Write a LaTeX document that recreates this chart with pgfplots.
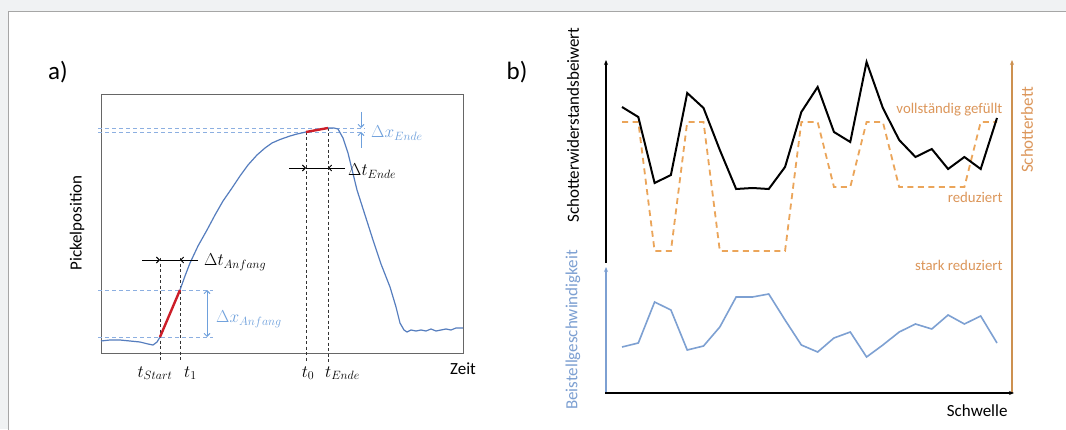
\documentclass[border=0pt]{standalone}
\usepackage{pgfplots}
\pgfplotsset{compat=1.18}
\usepackage{fontspec}
\setmainfont{Carlito}
\usetikzlibrary{arrows.meta}

\definecolor{pagebg}{RGB}{240,242,243}
\definecolor{curveblue}{RGB}{85,125,190}
\definecolor{dashblue}{RGB}{140,175,225}
\definecolor{labblue}{RGB}{110,160,220}
\definecolor{markred}{RGB}{205,30,40}
\definecolor{bedorange}{RGB}{235,165,90}
\definecolor{laborange}{RGB}{220,150,90}
\definecolor{axorange}{RGB}{205,145,80}
\definecolor{speedblue}{RGB}{125,160,210}

\newcommand\lab{\fontsize{17}{20}\selectfont}
\newcommand\mlab{\fontsize{17.5}{20}\selectfont}
\newcommand\olab{\fontsize{14.8}{17}\selectfont}

\begin{document}
\begin{tikzpicture}
\useasboundingbox (0pt,0pt) rectangle (1066pt,429pt);
\fill[pagebg] (0pt,0pt) rectangle (1066pt,429pt);
\filldraw[fill=white, draw=black!35, line width=0.8pt] (8pt,-5pt) rectangle (1075pt,418pt);

% panel labels
\node[font=\fontsize{25}{28}\selectfont] at (58pt,357pt) {a)};
\node[font=\fontsize{25}{28}\selectfont] at (517pt,357pt) {b)};

% ---------------- a) ----------------
\begin{axis}[
    at={(101pt,76pt)}, anchor=south west,
    scale only axis, width=362pt, height=259pt,
    xmin=101, xmax=463, ymin=76, ymax=335,
    xtick=\empty, ytick=\empty,
    axis line style={black!60, line width=0.9pt},
    clip=false
]
% guide lines
\draw[dashblue, line width=0.9pt, dash pattern=on 4pt off 3pt] (axis cs:98,301) -- (axis cs:365,301);
\draw[dashblue, line width=0.9pt, dash pattern=on 4pt off 3pt] (axis cs:98,297) -- (axis cs:365,297);
\draw[dashblue, line width=0.9pt, dash pattern=on 4pt off 3pt] (axis cs:98,139) -- (axis cs:213,139);
\draw[dashblue, line width=0.9pt, dash pattern=on 4pt off 3pt] (axis cs:98,92) -- (axis cs:213,92);
\draw[black!80, line width=0.9pt, dash pattern=on 3pt off 2.5pt] (axis cs:160,171) -- (axis cs:160,67);
\draw[black!80, line width=0.9pt, dash pattern=on 3pt off 2.5pt] (axis cs:180,171) -- (axis cs:180,67);
\draw[black!80, line width=0.9pt, dash pattern=on 3pt off 2.5pt] (axis cs:306,297) -- (axis cs:306,67);
\draw[black!80, line width=0.9pt, dash pattern=on 3pt off 2.5pt] (axis cs:328,301) -- (axis cs:328,67);

% curve
\addplot[curveblue, line width=1.2pt] coordinates {
(101,88) (110,89) (120,89) (130,88) (140,87) (148,85) (153,84) (157,87) (160,92)
(180,139) (185,153) (190,166) (198,183) (207,199) (215,214) (223,228) (232,241)
(240,253) (248,264) (257,274) (265,281) (272,286) (280,289.5) (290,293) (297,295)
(306,297) (328,301)
(334,301) (338,300) (343,291) (348,276) (357,239) (365,214) (373,189) (381,165)
(390,142) (396,122) (400,106) (404,99) (407,97) (411,99) (416,98) (421,99)
(426,98) (431,100) (436,98) (441,99) (446,100) (451,99) (456,101) (463,101)
};
\addplot[markred, line width=2.4pt] coordinates {(160,92) (180,139)};
\addplot[markred, line width=2.4pt] coordinates {(306,297) (328,301)};

% delta t arrows
\draw[black, line width=0.9pt] (axis cs:160,169) -- (axis cs:180,169);
\draw[black, line width=0.9pt, -{Straight Barb[length=3pt,width=6pt]}] (axis cs:142,169) -- (axis cs:160,169);
\draw[black, line width=0.9pt, -{Straight Barb[length=3pt,width=6pt]}] (axis cs:198,169) -- (axis cs:180,169);
\node[anchor=west, font=\mlab, inner sep=1pt] at (axis cs:203,167) {$\Delta t_{Anfang}$};

\draw[black, line width=0.9pt] (axis cs:306,261) -- (axis cs:328,261);
\draw[black, line width=0.9pt, -{Straight Barb[length=3pt,width=6pt]}] (axis cs:289,261) -- (axis cs:306,261);
\draw[black, line width=0.9pt, -{Straight Barb[length=3pt,width=6pt]}] (axis cs:345,261) -- (axis cs:328,261);
\node[anchor=west, font=\mlab, inner sep=1pt] at (axis cs:347,258) {$\Delta t_{Ende}$};

% delta x arrows
\draw[labblue, line width=0.9pt, {Straight Barb[length=3pt,width=6pt]}-{Straight Barb[length=3pt,width=6pt]}] (axis cs:207,92) -- (axis cs:207,139);
\node[anchor=west, font=\mlab, text=labblue, inner sep=1pt] at (axis cs:215,110) {$\Delta x_{Anfang}$};
\draw[labblue, line width=0.9pt, -{Straight Barb[length=3pt,width=6pt]}] (axis cs:361,317) -- (axis cs:361,301);
\draw[labblue, line width=0.9pt, -{Straight Barb[length=3pt,width=6pt]}] (axis cs:361,281) -- (axis cs:361,297);
\node[anchor=west, font=\mlab, text=labblue, inner sep=1pt] at (axis cs:370,296) {$\Delta x_{Ende}$};

% time labels
\node[font=\mlab] at (axis cs:155,56) {$t_{Start}$};
\node[font=\mlab, anchor=west, inner sep=1pt] at (axis cs:183,56) {$t_{1}$};
\node[font=\mlab] at (axis cs:308,56) {$t_{0}$};
\node[font=\mlab, anchor=west, inner sep=1pt] at (axis cs:324,56) {$t_{Ende}$};
\node[font=\lab] at (axis cs:463,60) {Zeit};
\end{axis}
\node[font=\lab, rotate=90] at (77pt,206pt) {Pickelposition};

% ---------------- b) ----------------
\begin{axis}[
    at={(606pt,36pt)}, anchor=south west,
    scale only axis, width=406pt, height=333pt,
    xmin=-0.9813, xmax=23.92, ymin=36, ymax=369,
    axis lines=none,
    clip=false
]
% Schotterbett (dashed)
\addplot[bedorange, line width=1.8pt, dash pattern=on 6pt off 4.5pt] coordinates {
(0,307) (1,307) (2,178) (3,178) (4,307) (5,307) (6,178) (7,178) (8,178) (9,178)
(10,178) (11,307) (12,307) (13,242) (14,242) (15,307) (16,307) (17,242) (18,242)
(19,242) (20,242) (21,242) (22,307) (23,307)
};
% Schotterwiderstandsbeiwert
\addplot[black, line width=2pt] coordinates {
(0,322) (1,312) (2,246) (3,254) (4,336) (5,321) (6,279) (7,240) (8,241) (9,240)
(10,262) (11,317) (12,342) (13,297) (14,287) (15,367) (16,321) (17,289) (18,272)
(19,280) (20,260) (21,272) (22,260) (23,311)
};
% Beistellgeschwindigkeit
\addplot[speedblue, line width=1.6pt] coordinates {
(0,82) (1,86) (2,127) (3,119) (4,79) (5,83) (6,102) (7,132) (8,132) (9,135)
(10,109) (11,84) (12,77) (13,91) (14,97) (15,72) (16,84) (17,97) (18,105)
(19,100) (20,114) (21,105) (22,113) (23,86)
};
\end{axis}

% axes of b)
\draw[black, line width=1.5pt, -{Stealth[length=5pt,width=4pt]}] (606pt,166pt) -- (606pt,369pt);
\draw[speedblue, line width=1.5pt, -{Stealth[length=5pt,width=4pt]}] (606pt,36pt) -- (606pt,162pt);
\draw[axorange, line width=1.5pt, -{Stealth[length=5pt,width=4pt]}] (1012pt,36pt) -- (1012pt,369pt);
\draw[black, line width=1.5pt, -{Stealth[length=5pt,width=4pt]}] (605pt,36pt) -- (1014pt,36pt);

\node[font=\lab, rotate=90] at (573pt,304pt) {Schotterwiderstandsbeiwert};
\node[font=\lab, rotate=90, text=speedblue] at (573pt,99pt) {Beistellgeschwindigkeit};
\node[font=\lab, rotate=90, text=laborange] at (1027pt,299pt) {Schotterbett};
\node[font=\olab, anchor=east, text=laborange] at (1006pt,319pt) {vollständig gefüllt};
\node[font=\olab, anchor=east, text=laborange] at (1006pt,232pt) {reduziert};
\node[font=\olab, anchor=east, text=laborange] at (1006pt,164pt) {stark reduziert};
\node[font=\lab, anchor=east] at (1011pt,18pt) {Schwelle};
\end{tikzpicture}
\end{document}
